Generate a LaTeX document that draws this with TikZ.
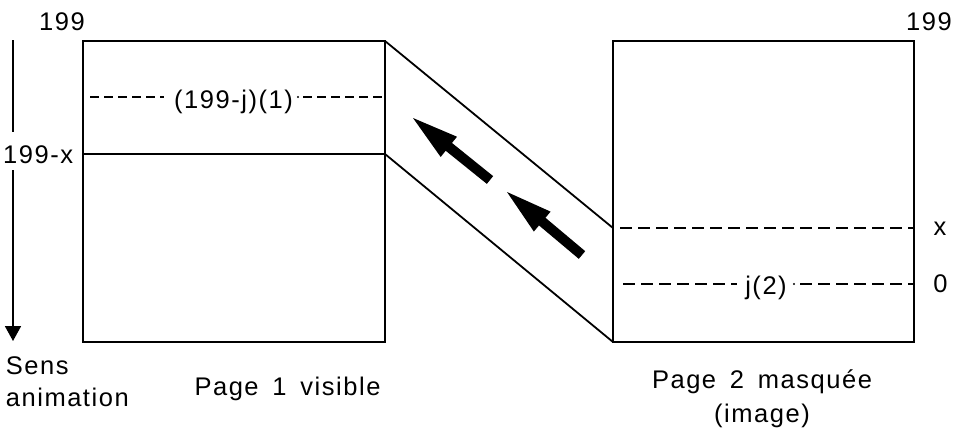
\documentclass[tikz,border=0pt]{standalone}
\usepackage{fontspec}
\setmainfont{Liberation Sans}[LetterSpace=6,WordSpace=1.6]
\usetikzlibrary{calc,arrows.meta}
\newcommand\fatarrow[2]{%
  \fill (#2) -- ($(#2)!46pt!(#1)!13pt!90:(#2)$) -- ($(#2)!46pt!(#1)!5pt!90:(#2)$)
    -- ($(#1)!5pt!90:(#2)$) -- ($(#1)!5pt!-90:(#2)$)
    -- ($(#2)!46pt!(#1)!5pt!-90:(#2)$) -- ($(#2)!46pt!(#1)!13pt!-90:(#2)$) -- cycle;}
\begin{document}
\begin{tikzpicture}[x=1pt,y=-1pt,line width=1.8pt,
  lbl/.style={font=\fontsize{25.5}{30}\selectfont,inner sep=0pt},
  dashA/.style={dash pattern=on 9pt off 5pt},
  dashB/.style={dash pattern=on 12pt off 6pt}]
\useasboundingbox (0,0) rectangle (954,432);
% boxes
\draw (83,41) rectangle (385,342);
\draw (613,41) rectangle (914,342);
\draw (83,154) -- (385,154);
% band between pages
\draw (385,41) -- (613,228);
\draw (385,154) -- (613,342);
% labels
\node[lbl,anchor=base] (t199l) at (62,30) {199};
\node[lbl,anchor=base] (t199r) at (929,30) {199};
\node[lbl,anchor=base east] (t199x) at (74,163) {199-x};
\node[lbl,anchor=base] (lbl1) at (233.5,108) {(199-j)(1)};
\node[lbl,anchor=base] (lbl2) at (766,294) {j(2)};
\node[lbl,anchor=base] (tx) at (940,235) {x};
\node[lbl,anchor=base] (t0) at (940.5,292) {0};
\node[lbl,anchor=base west] (sens) at (5,374) {Sens};
\node[lbl,anchor=base west] (anim) at (5,406) {animation};
\node[lbl,anchor=base] (p1) at (287.5,395) {Page 1 visible};
\node[lbl,anchor=base] (p2) at (762,388) {Page 2 masquée};
\node[lbl,anchor=base] (p2b) at (762,422) {(image)};
% dashed lines
\draw[dashA] (90,97) -- (164,97);
\draw[dashA] (303,97) -- (385,97);
\fill (298,97) circle (1.2pt);
\draw[dashB] (620,228) -- (914,228);
\draw[dashB] (623,284) -- (737,284);
\draw[dashB] (800,284) -- (914,284);
\fill (794,284) circle (1.2pt);
% animation direction axis
\draw (13,40) -- (13,132);
\draw[-{Triangle[length=15pt,width=16pt]}] (13,170) -- (13,341);
% fat arrows
\coordinate (a1tail) at (490,180);
\coordinate (a1tip) at (413,118);
\coordinate (a2tail) at (582,255);
\coordinate (a2tip) at (507,192);
\fatarrow{a1tail}{a1tip}
\fatarrow{a2tail}{a2tip}
\end{tikzpicture}
\end{document}
